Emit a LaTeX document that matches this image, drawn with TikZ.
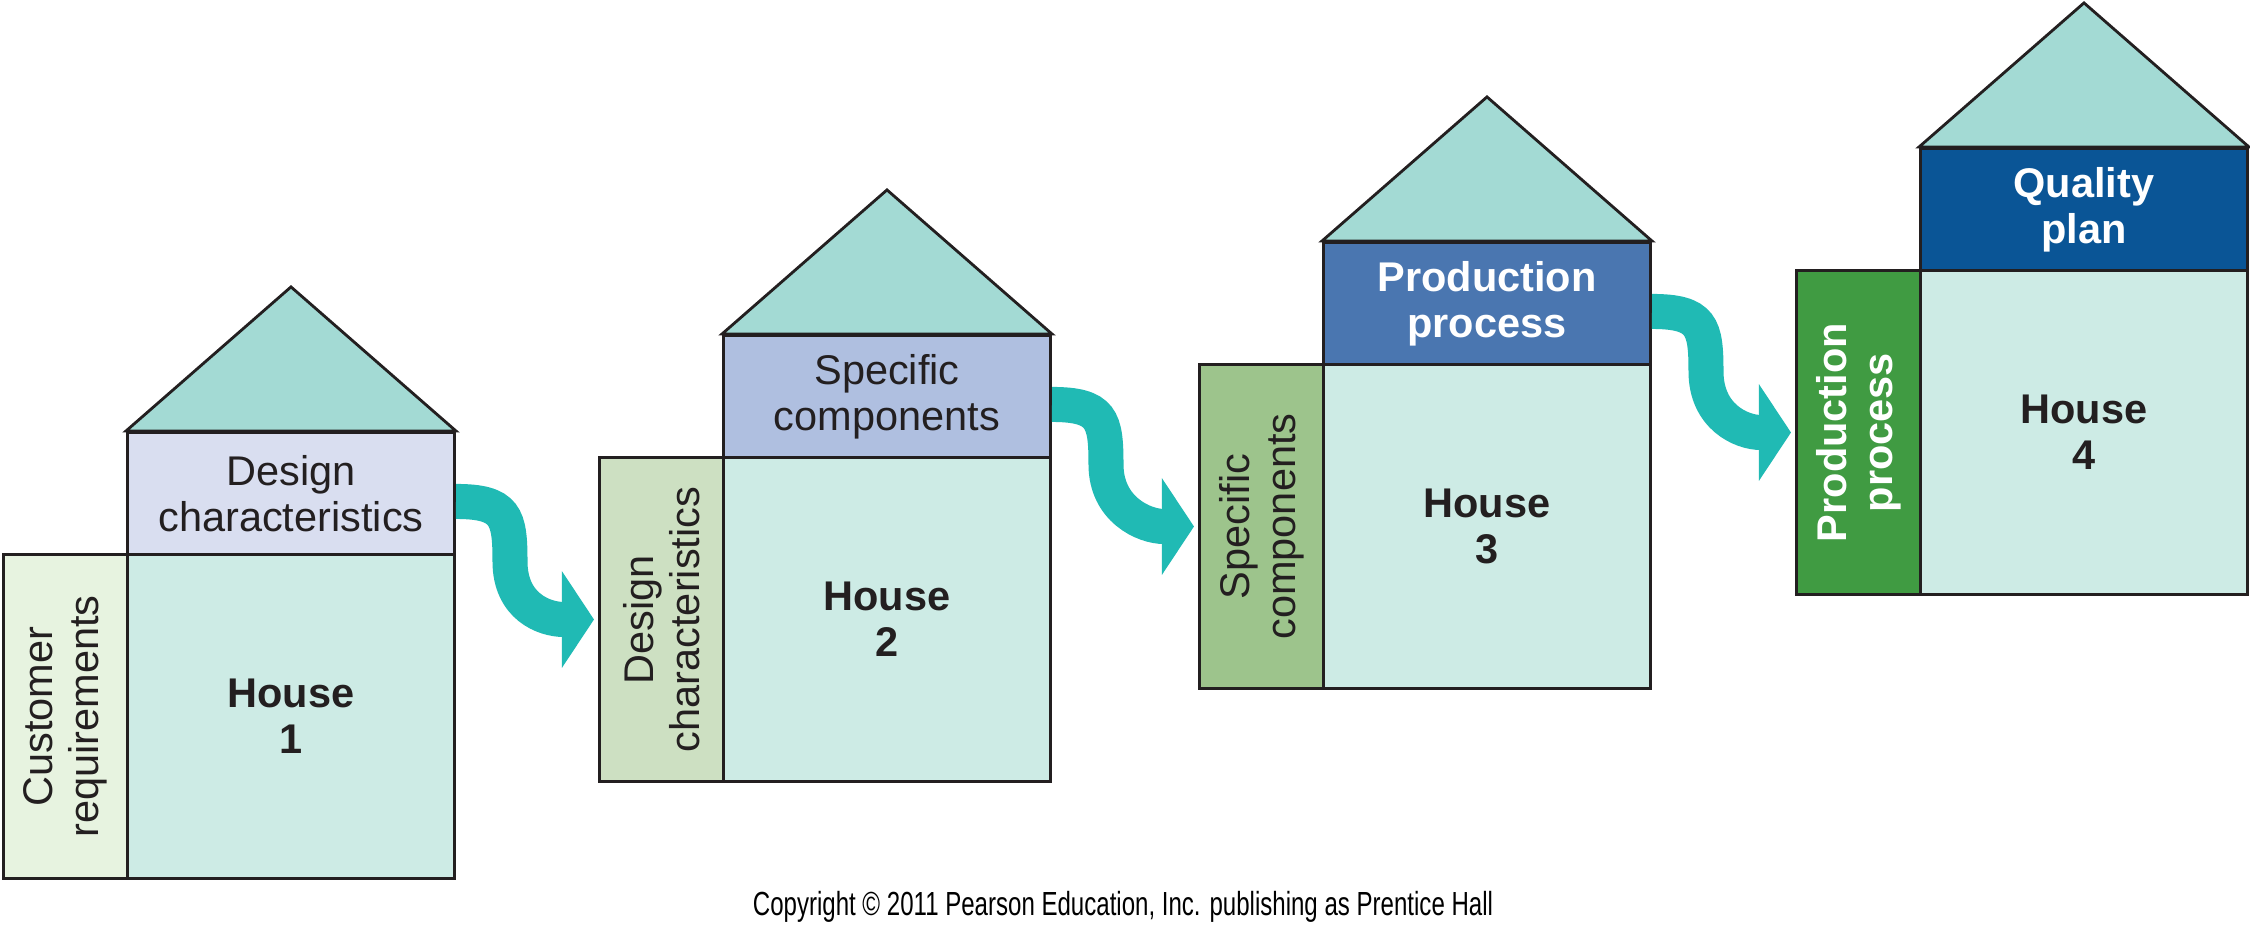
\documentclass[tikz,border=0pt]{standalone}
\usepackage{fontspec}
\usepackage{graphicx}
\setmainfont{Liberation Sans}
\usetikzlibrary{arrows.meta}
\definecolor{lineclr}{HTML}{231F20}
\definecolor{txt}{HTML}{231F20}
\definecolor{rooffill}{HTML}{A3DAD4}
\definecolor{mainfill}{HTML}{CDEBE5}
\definecolor{bandA}{HTML}{D9DEF0}
\definecolor{leftA}{HTML}{E7F3E0}
\definecolor{bandB}{HTML}{AFBFE0}
\definecolor{leftB}{HTML}{CDE0C2}
\definecolor{bandC}{HTML}{4A76B0}
\definecolor{leftC}{HTML}{9DC48C}
\definecolor{bandD}{HTML}{0A5596}
\definecolor{leftD}{HTML}{409B42}
\definecolor{arrowclr}{HTML}{20BAB4}
\tikzset{
  txtfont/.style={font=\fontsize{11.8}{13.1}\selectfont, text=txt},
  box/.style={draw=lineclr, line width=0.8pt, inner sep=0pt, anchor=north west, align=center, txtfont},
  mainbox/.style={box, fill=mainfill, minimum width=3.27cm, minimum height=3.24cm, font=\fontsize{11.8}{13.1}\selectfont\bfseries},
  bandbox/.style={box, minimum width=3.27cm, minimum height=1.22cm},
  leftbox/.style={box, minimum width=1.24cm, minimum height=3.24cm},
  roof/.style={draw=lineclr, line width=0.8pt, fill=rooffill, line join=miter},
  whitebold/.style={text=white, font=\fontsize{11.8}{13.1}\selectfont\bfseries},
  plain/.style={},
  flow/.style={draw=arrowclr, line width=0.35cm, -{Triangle[length=0.32cm,width=0.95cm]}},
}
% #1 id, #2 left x, #3 band top y, #4 band fill, #5 left fill,
% #6 band text style, #7 band text, #8 left text style, #9 left text
\newcommand\qfdhouse[9]{%
  \node[leftbox, fill=#5] (h#1left) at (#2, #3+122) {};
  \node[rotate=90, align=center, txtfont, #8] (h#1lefttext) at (h#1left.center) {#9};
  \node[mainbox] (h#1main) at (#2+124, #3+122) {House\\#1};
  \node[bandbox, fill=#4, #6] (h#1band) at (#2+124, #3) {#7};
  \draw[roof] (h#1band.north west) -- ([yshift=1.44cm]h#1band.north) -- (h#1band.north east) -- cycle;
}
\begin{document}
\begin{tikzpicture}[x=0.01cm, y=-0.01cm]
  \fill[white] (0,0) rectangle (2250,942);
  \useasboundingbox (0,0) rectangle (2250,942);

  \qfdhouse{1}{2}{431}{bandA}{leftA}{plain}{Design\\characteristics}{plain}{Customer\\requirements}
  \qfdhouse{2}{598}{334}{bandB}{leftB}{plain}{Specific\\components}{plain}{Design\\characteristics}
  \qfdhouse{3}{1198}{241}{bandC}{leftC}{whitebold}{Production\\process}{plain}{Specific\\components}
  \qfdhouse{4}{1795}{147}{bandD}{leftD}{whitebold}{Quality\\plan}{whitebold}{Production\\process}

  \draw[flow] ([yshift=-0.08cm]h1band.east) .. controls +(50,0) and +(0,-45) .. ++(54,60)
     .. controls +(0,45) and +(-50,0) .. ([xshift=-0.04cm]h2left.west);
  \draw[flow] ([yshift=-0.08cm]h2band.east) .. controls +(50,0) and +(0,-45) .. ++(54,60)
     .. controls +(0,45) and +(-50,0) .. ([xshift=-0.04cm]h3left.west);
  \draw[flow] ([yshift=-0.08cm]h3band.east) .. controls +(50,0) and +(0,-45) .. ++(54,60)
     .. controls +(0,45) and +(-50,0) .. ([xshift=-0.04cm]h4left.west);

  \node[inner sep=0pt] (copy) at (1123,907)
    {\scalebox{0.72}[1]{\fontsize{9.5}{11}\selectfont Copyright © 2011 Pearson Education, Inc. publishing as Prentice Hall}};
\end{tikzpicture}
\end{document}
